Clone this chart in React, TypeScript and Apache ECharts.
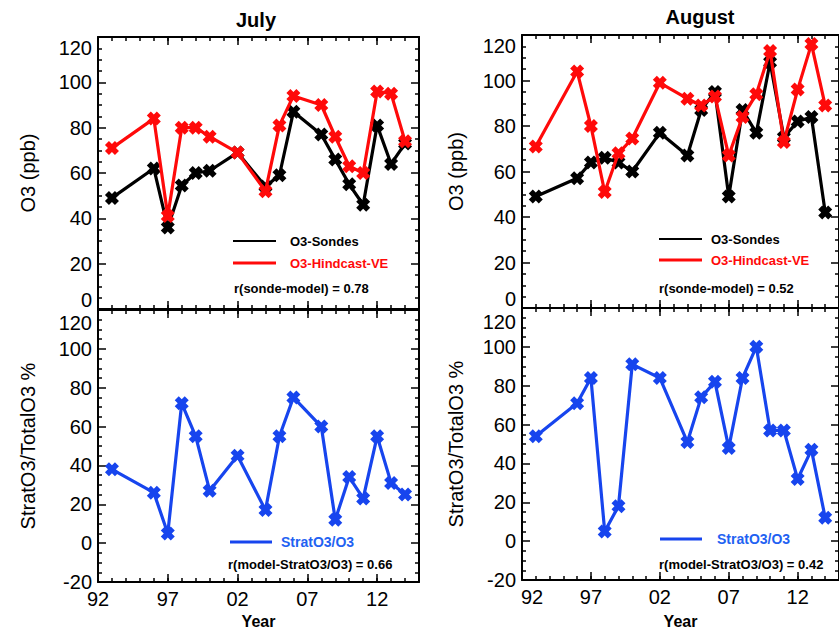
import React, { useEffect, useRef } from 'react';
import * as echarts from 'echarts';

// ---------- data ----------
const julyYears = [1993, 1996, 1997, 1998, 1999, 2000, 2002, 2004, 2005, 2006, 2008, 2009, 2010, 2011, 2012, 2013, 2014];
const julySondes = [49, 62, 36, 54.5, 60, 61, 69, 54, 59, 87, 77, 66, 55, 46, 81, 64, 73];
const julyHindcast = [71, 84, 41, 80, 80, 76, 69, 52, 81, 94, 90, 76, 63, 60, 96, 95, 74];
const julyStrat = [38, 26, 5, 72, 55, 27, 45, 17, 55, 75, 60, 12, 34, 23, 55, 31, 25];

const augYears = [1993, 1996, 1997, 1998, 1999, 2000, 2002, 2004, 2005, 2006, 2007, 2008, 2009, 2010, 2011, 2012, 2013, 2014];
const augSondes = [49, 57, 64, 66, 64, 60, 77, 67, 87, 95, 49, 87, 77, 108, 75, 82, 84, 42];
const augHindcast = [71, 104, 80, 51, 68, 74.5, 99, 92, 89, 93, 67, 84, 94, 113, 73, 96, 116, 89];
const augStrat = [54, 71, 84, 5, 18, 91, 84, 51, 74, 82, 48, 84, 100, 57, 57, 32, 47, 12];

const xTickValues = [1992, 1997, 2002, 2007, 2012];
const xTickLabels = ['92', '97', '02', '07', '12'];

const titles = ['July', 'August'];
const legendSondes = 'O3-Sondes';
const legendHindcast = 'O3-Hindcast-VE';
const legendStrat = 'StratO3/O3';
const rTop = ['r(sonde-model) = 0.78', 'r(sonde-model) = 0.52'];
const rBottom = ['r(model-StratO3/O3) = 0.66', 'r(model-StratO3/O3) = 0.42'];

// ---------- styles ----------
const FONT = '"Liberation Sans", Arial, Helvetica, sans-serif';
const BLACK = '#000000';
const RED = '#ff0a0a';
const BLUE = '#1745ee';
const BLUE_TEXT = '#1f62f2';
const XSYM = 'path://M0,4L4,0L7,3L10,0L14,4L11,7L14,10L10,14L7,11L4,14L0,10L3,7Z';

const grids = [
  { left: 98, top: 37, width: 321, height: 272 },
  { left: 98, top: 310, width: 321, height: 272 },
  { left: 522, top: 35, width: 323, height: 273 },
  { left: 522, top: 308, width: 323, height: 272 },
];

const axisLine = { show: true, onZero: false, lineStyle: { color: BLACK, width: 2 } };
const tickStyle = { color: BLACK, width: 1.5 };

function makeXAxes(g: number, showLabels: boolean, firstPad: number) {
  const base: any = {
    type: 'value', gridIndex: g, min: 1992, max: 2015,
    splitLine: { show: false }, minorSplitLine: { show: false },
  };
  const fmt = (v: number) => {
    const i = xTickValues.indexOf(v);
    if (i < 0) return '';
    const t = xTickLabels[i];
    return i === 0 && firstPad ? `{first|${t}}` : t;
  };
  const major = (pos: string, labels: boolean) => ({
    ...base, position: pos, interval: 5,
    axisLine,
    axisTick: { show: true, inside: true, length: 8, lineStyle: tickStyle },
    axisLabel: {
      show: labels, margin: 7, fontSize: 20, color: BLACK, fontFamily: FONT,
      showMaxLabel: false, formatter: fmt,
      rich: { first: { fontSize: 20, color: BLACK, fontFamily: FONT, padding: [0, 0, 0, firstPad] } },
    },
    name: labels ? 'Year' : '', nameLocation: 'middle', nameGap: g === 1 ? 31 : 33,
    nameTextStyle: { fontSize: 16, fontWeight: 'bold', color: BLACK, fontFamily: FONT },
  });
  const minor = (pos: string) => ({
    ...base, position: pos, interval: 1,
    axisLine: { show: false, onZero: false },
    axisTick: { show: true, inside: true, length: 4, lineStyle: tickStyle },
    axisLabel: { show: false },
  });
  return [major('bottom', showLabels), minor('bottom'), major('top', false), minor('top')];
}

function makeYAxes(g: number, min: number, name: string, nameGap: number, loPad: number, hiPad: number) {
  const fmt = (v: number) => {
    if (v === 0 && loPad > 0) return `{lo|0}`;
    if (v === 120) return `{hi|120}`;
    return String(v);
  };
  const base: any = {
    type: 'value', gridIndex: g, min, max: 120, interval: 20,
    axisLine,
    axisTick: { show: true, inside: true, length: 8, lineStyle: tickStyle },
    minorTick: { show: true, splitNumber: 4, length: 4, lineStyle: tickStyle },
    splitLine: { show: false }, minorSplitLine: { show: false },
  };
  const rs = { fontSize: 20, color: BLACK, fontFamily: FONT };
  return [
    {
      ...base, position: 'left',
      axisLabel: {
        show: true, margin: 6, fontSize: 20, color: BLACK, fontFamily: FONT, formatter: fmt,
        rich: { lo: { ...rs, padding: [0, 0, loPad, 0] }, hi: { ...rs, padding: [hiPad, 0, 0, 0] } },
      },
      name, nameLocation: 'middle', nameGap, nameRotate: 90,
      nameTextStyle: { fontSize: 20, color: BLACK, fontFamily: FONT },
    },
    { ...base, position: 'right', axisLabel: { show: false } },
  ];
}

function lineSeries(g: number, years: number[], vals: number[], color: string, z: number) {
  return {
    type: 'line', xAxisIndex: g * 4, yAxisIndex: g * 2,
    data: years.map((y, i) => [y, vals[i]]),
    symbol: XSYM, symbolSize: 14, showSymbol: true,
    lineStyle: { color, width: 3.2 }, itemStyle: { color },
    z, silent: true,
  };
}

function legendLine(x1: number, x2: number, y: number, color: string, w: number) {
  return { type: 'line', shape: { x1, y1: y, x2, y2: y }, style: { stroke: color, lineWidth: w } };
}
function gText(text: string, x: number, y: number, color: string, size: number, bold: boolean, align = 'left') {
  return {
    type: 'text', x, y,
    style: { text, fill: color, fontSize: size, fontWeight: bold ? 'bold' : 'normal', fontFamily: FONT, textAlign: align, textVerticalAlign: 'middle' },
  };
}

export default function App() {
  const ref = useRef<HTMLDivElement>(null);
  useEffect(() => {
    if (!ref.current) return;
    const chart = echarts.init(ref.current, undefined, { renderer: 'svg' });
    const option: any = {
      animation: false,
      backgroundColor: '#ffffff',
      grid: grids,
      xAxis: [
        ...makeXAxes(0, false, 0),
        ...makeXAxes(1, true, 0),
        ...makeXAxes(2, false, 0),
        ...makeXAxes(3, true, 20),
      ],
      yAxis: [
        ...makeYAxes(0, 0, 'O3 (ppb)', 60, 18, 22),
        ...makeYAxes(1, -20, 'StratO3/TotalO3 %', 60, 0, 26),
        ...makeYAxes(2, 0, 'O3 (ppb)', 56, 18, 22),
        ...makeYAxes(3, -20, 'StratO3/TotalO3 %', 56, 0, 27),
      ],
      series: [
        lineSeries(0, julyYears, julySondes, BLACK, 2),
        lineSeries(0, julyYears, julyHindcast, RED, 3),
        lineSeries(1, julyYears, julyStrat, BLUE, 2),
        lineSeries(2, augYears, augSondes, BLACK, 2),
        lineSeries(2, augYears, augHindcast, RED, 3),
        lineSeries(3, augYears, augStrat, BLUE, 2),
      ],
      graphic: [
        gText(titles[0], 256, 20, BLACK, 20, true, 'center'),
        gText(titles[1], 700, 17, BLACK, 20, true, 'center'),
        // July top legend
        legendLine(233, 276, 241, BLACK, 2),
        gText(legendSondes, 290, 241, BLACK, 13, true),
        legendLine(233, 276, 263, RED, 3),
        gText(legendHindcast, 290, 263, RED, 13, true),
        gText(rTop[0], 234, 288, BLACK, 13, true),
        // August top legend
        legendLine(659, 702, 239, BLACK, 2),
        gText(legendSondes, 711, 239, BLACK, 13, true),
        legendLine(659, 702, 260, RED, 3),
        gText(legendHindcast, 711, 260, RED, 13, true),
        gText(rTop[1], 659, 288, BLACK, 13, true),
        // July bottom legend
        legendLine(230, 272, 542, BLUE, 3),
        gText(legendStrat, 281, 542, BLUE_TEXT, 14, true),
        gText(rBottom[0], 228, 564, BLACK, 13, true),
        // August bottom legend
        legendLine(660, 702, 539, BLUE, 3),
        gText(legendStrat, 717, 539, BLUE_TEXT, 14, true),
        gText(rBottom[1], 659, 564, BLACK, 13, true),
      ],
    };
    chart.setOption(option);
    return () => chart.dispose();
  }, []);
  return <div ref={ref} style={{ width: 839, height: 632, position: 'absolute', left: 0, top: 0 }} />;
}
